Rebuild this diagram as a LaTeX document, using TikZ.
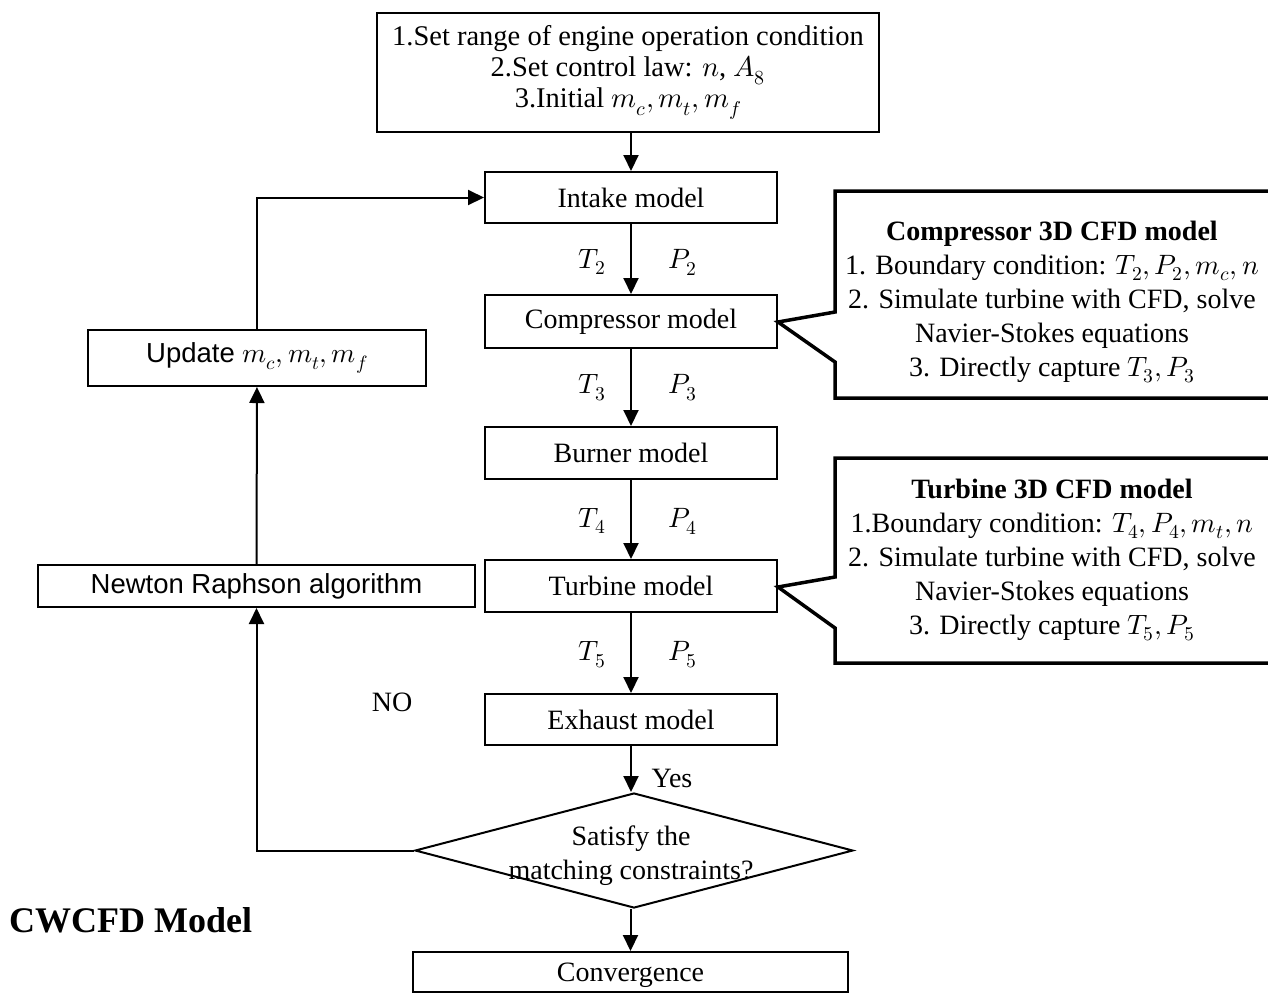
\documentclass[tikz,border=0pt]{standalone}
\usepackage{fontspec}
\usepackage{unicode-math}
\setmainfont{Liberation Serif}
\setmathfont{latinmodern-math.otf}
\newfontfamily\arialf{Liberation Sans}
\usetikzlibrary{arrows.meta,shapes.geometric,calc}
\tikzset{
  box/.style={draw,line width=2pt,inner sep=0pt,align=center,font=\fontsize{28}{32}\selectfont},
  sbox/.style={box,font=\arialf\fontsize{27.5}{32}\selectfont},
  arr/.style={line width=2pt,-{Triangle[length=16pt,width=15pt]}},
  lbl/.style={font=\fontsize{28}{32}\selectfont,inner sep=0pt},
  callout/.style={line width=3.5pt,line join=miter},
  ctext/.style={align=center,inner sep=0pt,font=\fontsize{28}{34}\selectfont}
}
\begin{document}
\begin{tikzpicture}[x=1pt,y=-1pt]
\useasboundingbox (0,0) rectangle (1268,994);
\clip (0,0) rectangle (1268,994);
\node[box,minimum width=502pt,minimum height=119pt,font=\fontsize{28.5}{31}\selectfont] (init) at (628,72.5)
  {1.Set range of engine operation condition\\2.Set control law: $n$, $A_8$\\3.Initial $m_c, m_t, m_f$};
\node[box,minimum width=292pt,minimum height=51pt] (intake) at (631,197.5) {Intake model};
\node[box,minimum width=292pt,minimum height=53pt] (comp) at (631,321.5) {Compressor model};
\node[box,minimum width=292pt,minimum height=52pt] (burner) at (631,453) {Burner model};
\node[box,minimum width=292pt,minimum height=52pt] (turb) at (631,586) {Turbine model};
\node[box,minimum width=292pt,minimum height=51pt] (exh) at (631,719.5) {Exhaust model};
\node[draw,line width=2pt,shape=diamond,minimum width=438pt,minimum height=115pt,inner sep=0pt] (dia) at (634,850.5) {};
\node[lbl,align=center,font=\fontsize{28}{34}\selectfont] (diat) at (631,856) {Satisfy the\\matching constraints?};
\node[box,minimum width=435pt,minimum height=40pt] (conv) at (630.5,972) {};
\node[lbl] (convt) at ($(conv.center)+(0,3)$) {Convergence};
\node[sbox,minimum width=338pt,minimum height=56pt] (upd) at (257,358) {Update $m_c, m_t, m_f$};
\node[sbox,minimum width=437pt,minimum height=42pt] (newt) at (256.5,586) {Newton Raphson algorithm};

\draw[arr] (init.south -| intake.north) -- (intake.north);
\draw[arr] (intake) -- (comp);
\draw[arr] (comp) -- (burner);
\draw[arr] (burner) -- (turb);
\draw[arr] (turb) -- (exh);
\draw[arr] (exh.south) -- (dia.north -| exh.south);
\draw[arr] (dia.south -| conv.north) -- (conv.north);
\draw[arr] (dia.west) -| (newt.south);
\draw[arr] (newt) -- (upd);
\draw[arr] (upd.north) |- (intake.west);

\node[lbl] (t2) at (592,262) {$T_2$};
\node[lbl] (p2) at (683,262) {$P_2$};
\node[lbl] (t3) at (592,388) {$T_3$};
\node[lbl] (p3) at (683,388) {$P_3$};
\node[lbl] (t4) at (592,521) {$T_4$};
\node[lbl] (p4) at (683,521) {$P_4$};
\node[lbl] (t5) at (592,655) {$T_5$};
\node[lbl] (p5) at (683,655) {$P_5$};
\node[lbl] (yes) at (672,778) {Yes};
\node[lbl] (no) at (392,702) {NO};
\node[lbl,font=\bfseries\fontsize{36}{40}\selectfont,anchor=west] (cw) at (9,920) {CWCFD Model};

% compressor callout
\coordinate (ca) at ($(comp.east)+(0,0.5)$);
\draw[callout] (835,312) -- (835,191) -- (1290,191) -- (1290,398) -- (835,398) -- (835,362) -- (ca) -- cycle;
\node[ctext] (ctx) at (1052,302) {\textbf{Compressor 3D CFD model}\\1. Boundary condition: $T_2, P_2, m_c, n$\\2. Simulate turbine with CFD, solve\\Navier-Stokes equations\\3. Directly capture $T_3, P_3$};
% turbine callout
\coordinate (ta) at ($(turb.east)+(0,1)$);
\draw[callout] (835,577) -- (835,458) -- (1290,458) -- (1290,663) -- (835,663) -- (835,628) -- (ta) -- cycle;
\node[ctext] (ttx) at (1052,560) {\textbf{Turbine 3D CFD model}\\1.Boundary condition: $T_4, P_4, m_t, n$\\2. Simulate turbine with CFD, solve\\Navier-Stokes equations\\3. Directly capture $T_5, P_5$};
\end{tikzpicture}
\end{document}
